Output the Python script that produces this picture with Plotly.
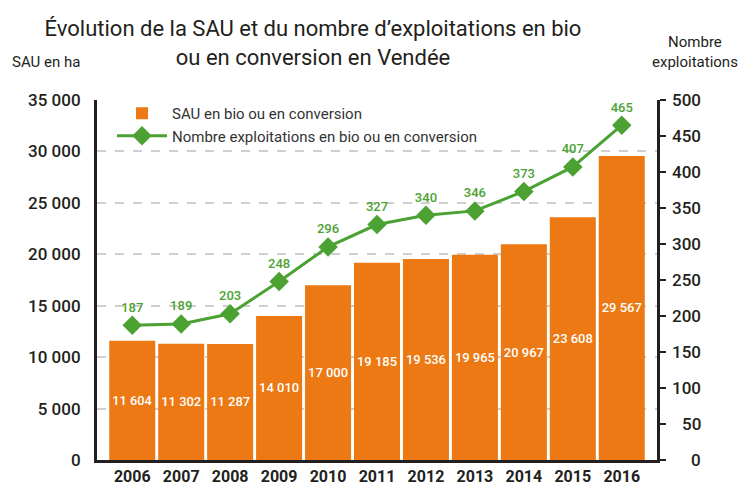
import plotly.graph_objects as go

years = ["2006", "2007", "2008", "2009", "2010", "2011", "2012", "2013", "2014", "2015", "2016"]
sau = [11604, 11302, 11287, 14010, 17000, 19185, 19536, 19965, 20967, 23608, 29567]
nb_exploit = [187, 189, 203, 248, 296, 327, 340, 346, 373, 407, 465]
left_ticks = [0, 5000, 10000, 15000, 20000, 25000, 30000, 35000]
left_tick_labels = ["0", "5 000", "10 000", "15 000", "20 000", "25 000", "30 000", "35 000"]
right_ticks = [0, 50, 100, 150, 200, 250, 300, 350, 400, 450, 500]

ORANGE = "#EC7913"
GREEN = "#4BA232"
DARK = "#231F20"
FONT = "Roboto"

L, R, T, B = 97, 657, 100, 460
def px(x):
    return (x - L) / (R - L)
def py(y):
    return (B - y) / (B - T)

def fmt(v):
    return f"{v:,}".replace(",", " ")

fig = go.Figure()
fig.add_trace(go.Bar(
    x=years, y=sau, name="SAU en bio ou en conversion",
    marker=dict(color=ORANGE, line=dict(width=0)),
    text=[fmt(v) for v in sau], textposition="inside", insidetextanchor="middle",
    textangle=0,
    textfont=dict(color="white", size=13, family=FONT, weight=500),
    yaxis="y",
))
fig.add_trace(go.Scatter(
    x=years, y=nb_exploit, name="Nombre exploitations en bio ou en conversion",
    mode="lines+markers+text",
    line=dict(color=GREEN, width=3),
    marker=dict(symbol="diamond", size=15, color=GREEN),
    text=[str(v) for v in nb_exploit], textposition="top center",
    textfont=dict(color=GREEN, size=13, family=FONT, weight=500),
    yaxis="y2", cliponaxis=False,
))

annotations = []
annotations.append(dict(text="SAU en ha", xref="paper", yref="paper", x=px(10), y=py(62),
                        xanchor="left", yanchor="middle", showarrow=False,
                        font=dict(size=15, color=DARK, family=FONT)))
annotations.append(dict(text="Nombre<br>exploitations", xref="paper", yref="paper", x=px(695), y=py(52),
                        xanchor="center", yanchor="middle", showarrow=False,
                        font=dict(size=15, color=DARK, family=FONT)))
for t in right_ticks:
    annotations.append(dict(text=str(t), xref="paper", yref="y2", x=px(703), y=t,
                            xanchor="right", yanchor="middle", showarrow=False,
                            font=dict(size=17, color=DARK, family=FONT, weight=500)))

fig.update_layout(
    width=742, height=486,
    margin=dict(l=L, r=742 - R, t=T, b=486 - B, autoexpand=False),
    paper_bgcolor="white", plot_bgcolor="white",
    bargap=0.06,
    title=dict(text="Évolution de la SAU et du nombre d’exploitations en bio<br>ou en conversion en Vendée",
               x=313/742, xanchor="center", y=1-36/486, yanchor="middle",
               font=dict(size=22, color=DARK, family=FONT, weight=400)),
    font=dict(family=FONT, color=DARK),
    xaxis=dict(showline=True, linecolor=DARK, linewidth=3, ticks="", showgrid=False,
               range=[-0.72, 10.72], automargin=False,
               tickfont=dict(size=16, color=DARK, family=FONT, weight=700)),
    yaxis=dict(range=[0, 35000], tickvals=left_ticks, ticktext=left_tick_labels,
               showline=True, linecolor=DARK, linewidth=3, ticks="", automargin=False,
               showgrid=True, gridcolor="#CFCFCF", griddash="dash", gridwidth=2,
               zeroline=False, ticklabelstandoff=10,
               tickfont=dict(size=17, color=DARK, family=FONT, weight=500)),
    yaxis2=dict(range=[0, 500], overlaying="y", side="right", tickvals=right_ticks,
                showticklabels=False, showline=True, linecolor=DARK, linewidth=3, automargin=False,
                ticks="outside", ticklen=6, tickwidth=2, tickcolor=DARK, showgrid=False, zeroline=False),
    legend=dict(x=px(112), y=py(97), xanchor="left", yanchor="top",
                bgcolor="rgba(0,0,0,0)", font=dict(size=15, color="#333333", family=FONT),
                itemwidth=50, tracegroupgap=2),
    showlegend=True,
    annotations=annotations,
)
fig.write_html("out.html", config={"displayModeBar": False},
               post_script="document.body.style.margin='0';document.body.style.padding='0';")
